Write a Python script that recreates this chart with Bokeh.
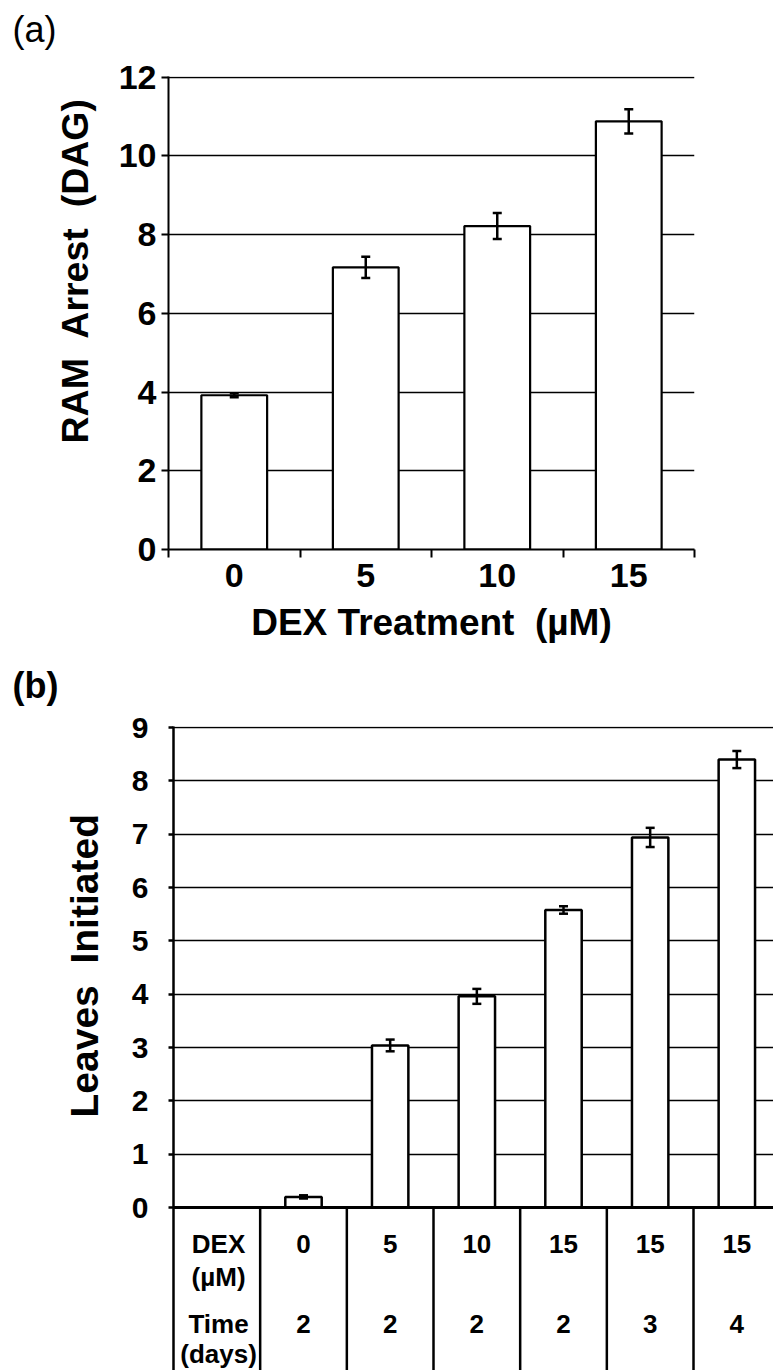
from bokeh.plotting import figure
from bokeh.models import (Range1d, FixedTicker, Title, Whisker, TeeHead,
                          ColumnDataSource, Span)
from bokeh.embed import file_html
from bokeh.resources import INLINE
from bokeh.core.properties import value

FONT = "Liberation Sans"
NB = "\u00a0 "  # wide gap used in the original labels

# ---------------- data: panel (a) ----------------
dex_a = ["0", "5", "10", "15"]
ram_arrest = [3.92, 7.17, 8.22, 10.88]
ram_err = [0.05, 0.27, 0.33, 0.31]
yticks_a = [0, 2, 4, 6, 8, 10, 12]

# ---------------- data: panel (b) ----------------
dex_b = ["0", "5", "10", "15", "15", "15"]
time_b = ["2", "2", "2", "2", "3", "4"]
leaves = [0.20, 3.04, 3.96, 5.58, 6.94, 8.40]
leaves_err = [0.03, 0.11, 0.14, 0.07, 0.18, 0.16]
yticks_b = [0, 1, 2, 3, 4, 5, 6, 7, 8, 9]
row_labels_b = [["DEX", "(µM)"], ["Time", "(days)"]]


def style_yaxis(ax, size, tick_out, standoff, lw):
    ax.axis_line_width = lw
    ax.axis_line_color = "black"
    ax.major_tick_out = tick_out
    ax.major_tick_in = 0
    ax.major_tick_line_width = lw
    ax.minor_tick_line_color = None
    ax.major_label_standoff = standoff
    ax.major_label_text_font = FONT
    ax.major_label_text_font_style = "bold"
    ax.major_label_text_font_size = size
    ax.major_label_text_color = "black"


def spacer(standoff):
    return Title(text=" ", text_font_size="10px", standoff=standoff)


# =============== panel (a) ===============
xa = list(range(1, len(dex_a) + 1))
pa = figure(width=773, height=660, output_backend="svg", toolbar_location=None,
            x_range=Range1d(0.5, len(dex_a) + 0.5), y_range=Range1d(0, 12.02),
            min_border_left=168, min_border_right=79, min_border_top=76,
            min_border_bottom=111)
pa.outline_line_color = None
pa.background_fill_color = "white"
pa.border_fill_color = "white"

pa.yaxis.ticker = FixedTicker(ticks=yticks_a)
pa.ygrid.ticker = pa.yaxis.ticker
pa.ygrid.grid_line_color = "black"
pa.ygrid.grid_line_width = 1.6
pa.xgrid.visible = False
style_yaxis(pa.yaxis[0], "34px", 7, 5, 2)

xax = pa.xaxis[0]
xax.ticker = FixedTicker(ticks=xa, minor_ticks=[i + 0.5 for i in range(len(dex_a) + 1)])
xax.major_label_overrides = {x: d for x, d in zip(xa, dex_a)}
xax.major_tick_line_color = None
xax.major_tick_out = 8
xax.major_tick_in = 0
xax.minor_tick_out = 8
xax.minor_tick_in = 0
xax.minor_tick_line_width = 2
xax.minor_tick_line_color = "black"
xax.axis_line_width = 2
xax.axis_line_color = "black"
xax.major_label_standoff = 6
xax.major_label_text_font = FONT
xax.major_label_text_font_style = "bold"
xax.major_label_text_font_size = "34px"
xax.major_label_text_color = "black"
xax.axis_label = "DEX Treatment" + NB + "(µM)"
xax.axis_label_text_font = FONT
xax.axis_label_text_font_style = "bold"
xax.axis_label_text_font_size = "37px"
xax.axis_label_text_color = "black"
xax.axis_label_standoff = 12

pa.vbar(x=xa, top=ram_arrest, width=0.5, fill_color="white",
        line_color="black", line_width=2.2)
src_a = ColumnDataSource(dict(x=xa,
                              lo=[v - e for v, e in zip(ram_arrest, ram_err)],
                              hi=[v + e for v, e in zip(ram_arrest, ram_err)]))
pa.add_layout(Whisker(source=src_a, base="x", lower="lo", upper="hi", level="overlay",
                      line_width=2.5, line_color="black",
                      upper_head=TeeHead(size=9, line_width=2.5, line_color="black"),
                      lower_head=TeeHead(size=9, line_width=2.5, line_color="black")))

pa.add_layout(spacer(8), "above")
pa.add_layout(Title(text="(a)", align="left", offset=-156, standoff=11,
                    text_font=FONT, text_font_style="normal", text_font_size="36px",
                    text_color="black"), "above")
pa.add_layout(Title(text="RAM" + NB + "Arrest" + NB + "(DAG)", align="left", offset=106,
                    standoff=40, text_font=FONT, text_font_style="bold",
                    text_font_size="37.5px", text_color="black"), "left")

# =============== panel (b) ===============
xb = list(range(1, len(dex_b) + 1))
ymin_b = -3.055
pb = figure(width=773, height=710, output_backend="svg", toolbar_location=None,
            x_range=Range1d(-0.5, 6.423), y_range=Range1d(ymin_b, 9.02),
            x_axis_location=None,
            min_border_left=173, min_border_right=0, min_border_top=66,
            min_border_bottom=0)
pb.outline_line_color = None
pb.background_fill_color = "white"
pb.border_fill_color = "white"

pb.yaxis.ticker = FixedTicker(ticks=yticks_b)
pb.ygrid.ticker = pb.yaxis.ticker
pb.ygrid.grid_line_color = "black"
pb.ygrid.grid_line_width = 1.6
pb.xgrid.visible = False
style_yaxis(pb.yaxis[0], "30px", 5, 20, 2.5)

pb.vbar(x=xb, top=leaves, width=0.42, fill_color="white",
        line_color="black", line_width=2.5)
src_b = ColumnDataSource(dict(x=xb,
                              lo=[v - e for v, e in zip(leaves, leaves_err)],
                              hi=[v + e for v, e in zip(leaves, leaves_err)]))
pb.add_layout(Whisker(source=src_b, base="x", lower="lo", upper="hi", level="overlay",
                      line_width=2.5, line_color="black",
                      upper_head=TeeHead(size=9, line_width=2.5, line_color="black"),
                      lower_head=TeeHead(size=9, line_width=2.5, line_color="black")))

pb.add_layout(Span(location=0, dimension="width", line_color="black", line_width=3))

# table below the bars
bounds = [i + 0.5 for i in range(len(dex_b))]
pb.segment(x0=bounds, y0=[ymin_b] * len(bounds), x1=bounds, y1=[0] * len(bounds),
           line_color="black", line_width=2.5)

row_y = [-0.684, -2.175]
sub_y = [-1.294, -2.74]
head_x = 0.02
pb.text(x=[head_x] * 4, y=[row_y[0], sub_y[0], row_y[1], sub_y[1]],
        text=[row_labels_b[0][0], row_labels_b[0][1], row_labels_b[1][0], row_labels_b[1][1]],
        text_font=value(FONT), text_font_style="bold", text_font_size="26px",
        text_align="center", text_baseline="middle", text_color="black")
pb.text(x=xb, y=[row_y[0]] * len(xb), text=dex_b,
        text_font=value(FONT), text_font_style="bold", text_font_size="26px",
        text_align="center", text_baseline="middle", text_color="black")
pb.text(x=xb, y=[row_y[1]] * len(xb), text=time_b,
        text_font=value(FONT), text_font_style="bold", text_font_size="26px",
        text_align="center", text_baseline="middle", text_color="black")

pb.add_layout(spacer(6), "above")
pb.add_layout(Title(text="(b)", align="left", offset=-161, standoff=3,
                    text_font=FONT, text_font_style="bold", text_font_size="36px",
                    text_color="black"), "above")
pb.add_layout(Title(text="Leaves" + NB + "Initiated", align="left", offset=253,
                    standoff=46, text_font=FONT, text_font_style="bold",
                    text_font_size="39px", text_color="black"), "left")

open("out.html", "w").write(file_html([pa, pb], INLINE))
